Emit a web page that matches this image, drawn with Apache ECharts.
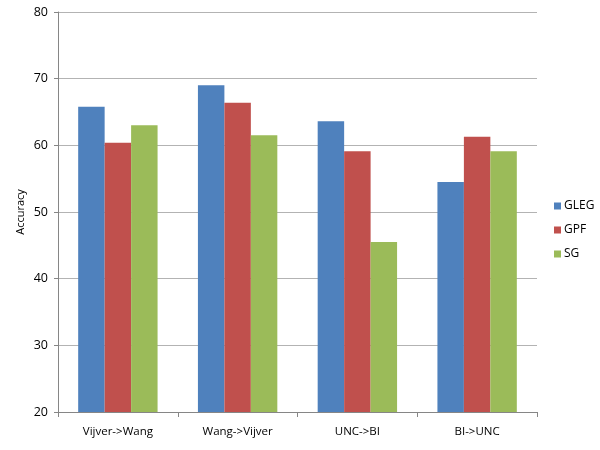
<!DOCTYPE html>
<html>
<head>
<meta charset="utf-8">
<script src="https://cdn.jsdelivr.net/npm/echarts@6/dist/echarts.min.js"></script>
<style>
  html, body { margin: 0; padding: 0; background: #ffffff; }
  #chart { width: 600px; height: 450px; }
</style>
</head>
<body>
<div id="chart"></div>
<script>
const categories = ['Vijver->Wang', 'Wang->Vijver', 'UNC->BI', 'BI->UNC'];
const gleg = [65.8, 69.0, 63.6, 54.5];
const gpf = [60.4, 66.4, 59.1, 61.3];
const sg = [63.0, 61.5, 45.5, 59.1];

const font = 'Open Sans';
let chart = echarts.init(document.getElementById('chart'));
let option = {
  animation: false,
  textStyle: { fontFamily: font },
  grid: { left: 58, right: 63, top: 12, bottom: 38 },
  legend: {
    orient: 'vertical',
    left: 549,
    top: 195,
    itemWidth: 7,
    itemHeight: 7,
    itemGap: 12,
    icon: 'rect',
    textStyle: { fontFamily: font, fontSize: 12, color: '#000', padding: [0, 0, 0, -2] },
    data: ['GLEG', 'GPF', 'SG']
  },
  xAxis: {
    type: 'category',
    data: categories,
    axisLine: { lineStyle: { color: '#868686' } },
    axisTick: { show: true, length: 5, lineStyle: { color: '#868686' } },
    axisLabel: { color: '#000', fontSize: 11.5, margin: 14, fontFamily: font }
  },
  yAxis: {
    type: 'value',
    min: 20,
    max: 80,
    interval: 10,
    name: 'Accuracy',
    nameLocation: 'middle',
    nameGap: 32,
    nameMoveOverlap: false,
    nameTextStyle: { color: '#000', fontSize: 11, fontFamily: font },
    axisLine: { show: true, lineStyle: { color: '#868686' } },
    axisTick: { show: true, length: 4, lineStyle: { color: '#868686' } },
    axisLabel: { color: '#000', fontSize: 12.5, margin: 10, fontFamily: font },
    splitLine: { lineStyle: { color: '#b3b3b3' } }
  },
  series: [
    { name: 'GLEG', type: 'bar', data: gleg, barGap: '0%', barCategoryGap: '33.7%', itemStyle: { color: '#4F81BD' } },
    { name: 'GPF', type: 'bar', data: gpf, itemStyle: { color: '#C0504D' } },
    { name: 'SG', type: 'bar', data: sg, itemStyle: { color: '#9BBB59' } }
  ]
};
chart.setOption(option);
</script>
</body>
</html>
